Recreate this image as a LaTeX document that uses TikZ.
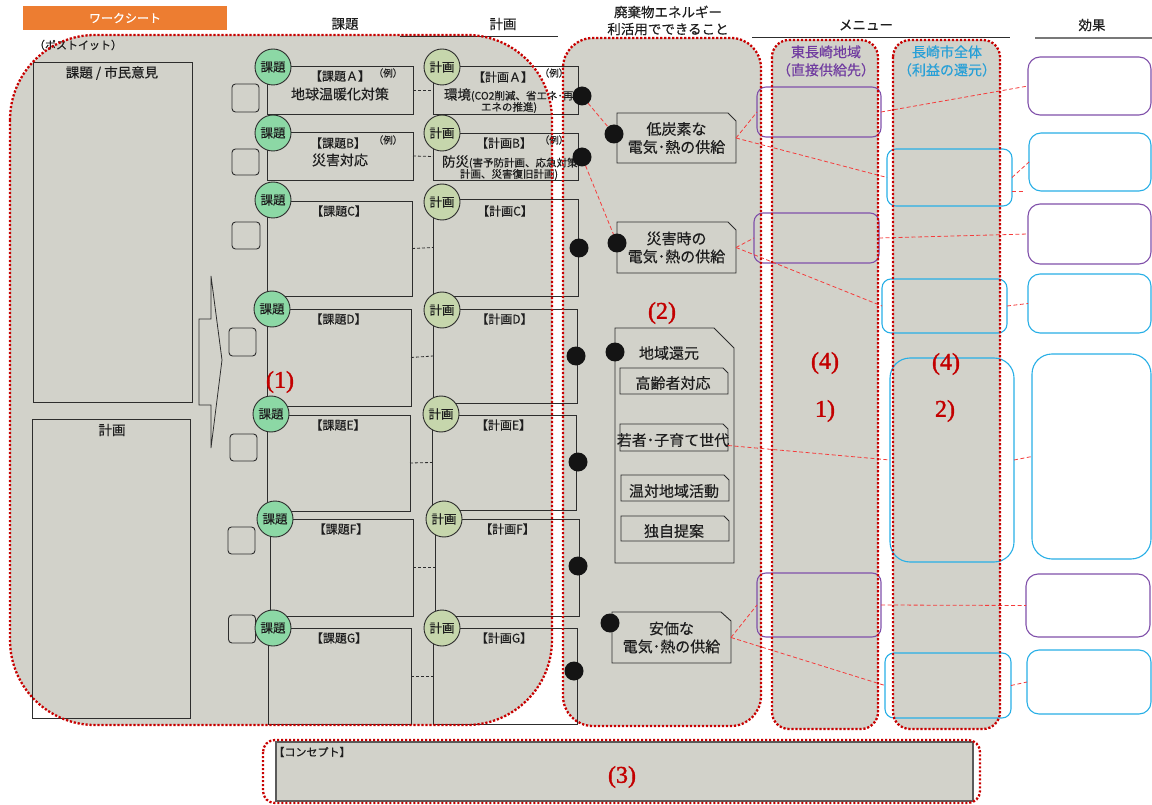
\documentclass[tikz,border=0pt]{standalone}
\usepackage{fontspec}
\setmainfont{Noto Sans CJK JP}[FakeBold=0.35]
\newfontfamily\lblfont{Liberation Serif}[FakeBold=1.4]
\newcommand\fsz[2]{\fontsize{#1pt}{#2pt}\selectfont}
\definecolor{bg}{RGB}{210,210,202}
\definecolor{ln}{RGB}{45,45,45}
\definecolor{txt}{RGB}{30,30,30}
\definecolor{rd}{RGB}{200,0,0}
\definecolor{rdl}{RGB}{245,60,60}
\definecolor{org}{RGB}{237,125,49}
\definecolor{kgreen}{RGB}{140,216,165}
\definecolor{pgreen}{RGB}{198,214,172}
\definecolor{pur}{RGB}{128,80,170}
\definecolor{purt}{RGB}{112,60,160}
\definecolor{blu}{RGB}{40,175,230}
\definecolor{blut}{RGB}{40,160,215}
\definecolor{dotc}{RGB}{20,20,20}
\definecolor{lr}{RGB}{195,0,0}
\definecolor{cg}{RGB}{90,90,90}
\definecolor{hl}{RGB}{120,120,120}
\begin{document}
\begin{tikzpicture}[x=1pt,y=-1pt,
  every node/.style={inner sep=0pt, outer sep=0pt, text=txt},
  wh/.style 2 args={minimum width=#1, minimum height=#2},
  bx/.style={draw=ln, line width=0.9pt},
  sq/.style={draw=ln, line width=0.9pt, rounded corners=3.5pt},
  kc/.style={circle, draw=ln, line width=0.9pt, fill=kgreen, minimum size=36pt, font=\fsz{12.5}{14}},
  pc/.style={kc, fill=pgreen},
  dt/.style={circle, fill=dotc, minimum size=19pt},
  rdot/.style={draw=rd, line width=2.3pt, dash pattern=on 2.2pt off 1.8pt},
  rdash/.style={draw=rdl, line width=0.8pt, dash pattern=on 4pt off 2.5pt},
  bdash/.style={draw=ln, line width=0.8pt, dash pattern=on 3pt off 2pt},
  mp/.style={draw=pur, line width=1.1pt, rounded corners=9pt},
  mb/.style={draw=blu, line width=1.1pt, rounded corners=9pt},
  ep/.style={mp, fill=white, rounded corners=12pt},
  eb/.style={mb, fill=white, rounded corners=12pt},
  lbl/.style={text=lr, font=\lblfont\fsz{24}{28}},
  t12/.style={font=\fsz{12}{14}},
  t14/.style={font=\fsz{13.5}{16}},
  t15/.style={font=\fsz{15}{18}, align=center},
  ex/.style={font=\fsz{9.5}{11}}
]
\useasboundingbox (0,0) rectangle (1152,805);

% ---------- region fills
\fill[bg, rounded corners=85pt] (10,35) rectangle (552,725);
\fill[bg, rounded corners=30pt] (563,38) rectangle (761,726);
\fill[bg, rounded corners=17pt] (772,40) rectangle (878,729);
\fill[bg, rounded corners=17pt] (893,40) rectangle (1000,729);

% ---------- headers
\node[fill=org, wh={204}{24}, text=white, font=\fsz{12}{14}] (ws) at (125,18) {ワークシート};
\node[t14] (h1) at (345,24) {課題};
\node[t14] (h2) at (503,24) {計画};
\node[t14, align=center, font=\fsz{13.5}{17}] (h3) at (668,20.5) {廃棄物エネルギー\\利活用でできること};
\node[t14] (h4) at (866,25) {メニュー};
\node[t14] (h5) at (1092,25) {効果};
\coordinate (u1) at (400,36); \coordinate (u2) at (558,36);
\draw[ln, line width=0.9pt] (u1) -- (u2);
\coordinate (u3) at (752,37); \coordinate (u4) at (1010,37);
\draw[ln, line width=0.9pt] (u3) -- (u4);
\coordinate (u5) at (1035,38); \coordinate (u6) at (1152,38);
\draw[hl, line width=1.2pt] (u5) -- (u6);

\node[font=\fsz{11}{13}] (pit) at (78,45) {（ポストイット）};

% ---------- left big boxes
\node[bx, wh={159}{340}] (kv) at (112.5,232) {};
\node[t14] (kvt) at (112,73) {課題 / 市民意見};
\node[bx, wh={158}{299}] (pl) at (111,568.5) {};
\node[t14] (plt) at (112,430) {計画};

% arrow
\draw[ln, line width=0.8pt] (199,319) -- (211,319) -- (211,276) -- (222,360) -- (211,448) -- (211,405) -- (199,405) -- cycle;

% post-it squares
\node[sq, wh={27}{28}] (sqA) at (245.5,98) {};
\node[sq, wh={27}{26}] (sqB) at (245.5,162) {};
\node[sq, wh={28}{27}] (sqC) at (246,235.5) {};
\node[sq, wh={27}{28}] (sqD) at (242.5,342) {};
\node[sq, wh={27}{27}] (sqE) at (243.5,447.5) {};
\node[sq, wh={27}{27}] (sqF) at (241.5,540.5) {};
\node[sq, wh={27}{28}] (sqG) at (242,629) {};

% ---------- 課題 boxes
\node[bx, wh={146}{48}] (kbA) at (340,90) {};
\node[bx, wh={146}{48}] (kbB) at (340,156) {};
\node[bx, wh={145}{95}] (kbC) at (339.5,248.5) {};
\node[bx, wh={144}{97}] (kbD) at (339,357.5) {};
\node[bx, wh={143}{96}] (kbE) at (338.5,463) {};
\node[bx, wh={143}{97}] (kbF) at (341.5,567.5) {};
\node[bx, wh={143}{96}] (kbG) at (339.5,676) {};

\node[t12] (ktA) at (340,76) {【課題Ａ】};
\node[ex] (keA) at (388,73) {（例）};
\node[font=\fsz{14}{16}] (kdA) at (340,94) {地球温暖化対策};
\node[t12] (ktB) at (338,143) {【課題B】};
\node[ex] (keB) at (388,140) {（例）};
\node[font=\fsz{14}{16}] (kdB) at (340,160) {災害対応};
\node[t12] (ktC) at (339,211) {【課題C】};
\node[t12] (ktD) at (338.5,319) {【課題D】};
\node[t12] (ktE) at (338,425) {【課題E】};
\node[t12] (ktF) at (341,529) {【課題F】};
\node[t12] (ktG) at (339,638) {【課題G】};

% ---------- 計画 boxes
\node[bx, wh={145}{48}] (pbA) at (505.5,90) {};
\node[bx, wh={145}{47}] (pbB) at (505.5,156.5) {};
\node[bx, wh={145}{97}] (pbC) at (505.5,247.5) {};
\node[bx, wh={144}{94}] (pbD) at (505,356) {};
\node[bx, wh={144}{95}] (pbE) at (504,462.5) {};
\node[bx, wh={144}{97}] (pbF) at (507,567.5) {};
\node[bx, wh={144}{96}] (pbG) at (505,676) {};

\node[t12] (ptA) at (503,77) {【計画Ａ】};
\node[ex] (peA) at (554,73) {（例）};
\node[anchor=west] (pdA) at (444,95) {{\fsz{13.5}{16}環境}{\fsz{10.5}{12}(CO2削減、省エネ･再}};
\node[font=\fsz{10.5}{12}] (pdA2) at (509,107.5) {エネの推進)};
\node[t12] (ptB) at (504,143) {【計画B】};
\node[ex] (peB) at (554,140) {（例）};
\node[anchor=west] (pdB) at (442,162) {{\fsz{13.5}{16}防災}{\fsz{10.5}{12}(害予防計画、応急対策}};
\node[font=\fsz{10.5}{12}] (pdB2) at (509,174.5) {計画、災害復旧計画)};
\node[t12] (ptC) at (505,211) {【計画C】};
\node[t12] (ptD) at (504.5,319) {【計画D】};
\node[t12] (ptE) at (503.5,425) {【計画E】};
\node[t12] (ptF) at (507.5,529) {【計画F】};
\node[t12] (ptG) at (504,638) {【計画G】};

% dashed links between columns
\foreach \r in {A,B,C,D,E,F,G} { \draw[bdash] (kb\r.east) -- (pb\r.west); }

% circles
\node[kc] (kA) at (273,67) {課題};
\node[kc] (kB) at (273,133) {課題};
\node[kc] (kC) at (273,200) {課題};
\node[kc] (kD) at (272,309) {課題};
\node[kc] (kE) at (271,414) {課題};
\node[kc] (kF) at (275,519) {課題};
\node[kc] (kG) at (273,628) {課題};
\node[pc] (pA) at (442,67) {計画};
\node[pc] (pB) at (442,133) {計画};
\node[pc] (pC) at (442,202) {計画};
\node[pc] (pD) at (442,310) {計画};
\node[pc] (pE) at (441,414) {計画};
\node[pc] (pF) at (444,519) {計画};
\node[pc] (pG) at (442,628) {計画};

% dots on 計画 boxes
\node[dt] (dA) at (582,96) {};
\node[dt] (dB) at (582,157) {};
\node[dt] (dC) at (579,248) {};
\node[dt] (dD) at (576,356) {};
\node[dt] (dE) at (578,462) {};
\node[dt] (dF) at (578,566) {};
\node[dt] (dG) at (574,671) {};

% ---------- column 2 boxes
\node[wh={119}{50}, t15] (lc) at (676.5,138) {低炭素な\\電気･熱の供給};
\draw[ln, line width=0.9pt] (lc.north west) -- ([xshift=-8pt]lc.north east) -- ([yshift=-8pt]lc.north east) -- (lc.south east) -- (lc.south west) -- cycle;
\node[wh={119}{51}, t15] (dc) at (676.5,247.5) {災害時の\\電気･熱の供給};
\draw[ln, line width=0.9pt] (dc.north west) -- ([xshift=-8pt]dc.north east) -- ([yshift=-8pt]dc.north east) -- (dc.south east) -- (dc.south west) -- cycle;
\node[wh={119}{51}, t15] (ac) at (671.5,637.5) {安価な\\電気･熱の供給};
\draw[ln, line width=0.9pt] (ac.north west) -- ([xshift=-10pt]ac.north east) -- ([yshift=-9pt]ac.north east) -- (ac.south east) -- (ac.south west) -- cycle;

\node[wh={119}{235}] (gb) at (674.5,445.5) {};
\draw[ln, line width=0.9pt] (gb.north west) -- ([xshift=-20pt]gb.north east) -- ([yshift=-20pt]gb.north east) -- (gb.south east) -- (gb.south west) -- cycle;
\node[font=\fsz{15}{18}] (gbt) at (669,353) {地域還元};
\foreach \n/\cx/\cy/\h in {s1/674/381/26, s2/674/437.5/27, s3/675/488/26, s4/675/528.5/25} {
  \node[wh={108}{\h}] (\n) at (\cx,\cy) {};
  \draw[ln, line width=0.9pt] (\n.north west) -- ([xshift=-5pt]\n.north east) -- ([yshift=-5pt]\n.north east) -- (\n.south east) -- (\n.south west) -- cycle;
}
\node[font=\fsz{15}{18}] (s1t) at (673,383) {高齢者対応};
\node[font=\fsz{15}{18}] (s2t) at (673,440) {若者･子育て世代};
\node[font=\fsz{15}{18}] (s3t) at (674,491) {温対地域活動};
\node[font=\fsz{15}{18}] (s4t) at (674,531) {独自提案};

\node[dt] (dlc) at (614,134) {};
\node[dt] (ddc) at (617,243) {};
\node[dt] (dgb) at (615,352) {};
\node[dt] (dac) at (610,623) {};

\draw[rdash] (dA) -- (dlc);
\draw[rdash] (dB) -- (ddc);

% ---------- menu boxes
\node[mp, wh={124}{50}] (P1) at (819,112) {};
\node[mp, wh={125}{50}] (P2) at (816.5,238) {};
\node[mp, wh={124}{64}] (P3) at (819,605) {};
\node[mb, wh={125}{57}] (B1) at (949.5,177.5) {};
\node[mb, wh={125}{54}] (B2) at (944.5,306) {};
\node[mb, wh={124}{204}, rounded corners=20pt] (B3) at (952,460) {};
\node[mb, wh={126}{65}] (B4) at (948,685.5) {};

% effect boxes
\node[ep, wh={123}{58}] (E1) at (1089.5,86) {};
\node[eb, wh={122}{58}] (E2) at (1090,162) {};
\node[ep, wh={123}{60}] (E3) at (1089.5,234) {};
\node[eb, wh={123}{59}] (E4) at (1089.5,303.5) {};
\node[eb, wh={119}{205}, rounded corners=20pt] (E5) at (1091.5,456.5) {};
\node[ep, wh={124}{63}] (E6) at (1088,605.5) {};
\node[eb, wh={124}{64}] (E7) at (1089,682) {};

% red dashed connectors
\draw[rdash] (lc.east) -- (P1.west);
\draw[rdash] (lc.east) -- (B1.west);
\draw[rdash] (P1.east) -- (E1.west);
\draw[rdash] (B1.east) -- (E2.west);
\coordinate (s1e) at (1023,191);
\draw[rdash] (B1.east |- s1e) -- (s1e);
\draw[rdash] (dc.east) -- (P2.west);
\draw[rdash] (dc.east) -- (B2.west);
\draw[rdash] (P2.east) -- (E3.west);
\draw[rdash] (B2.east) -- (E4.west);
\draw[rdash] ([yshift=-8pt]s2.east) -- (B3.west);
\draw[rdash] (B3.east) -- (E5.west);
\draw[rdash] (ac.east) -- (P3.west);
\draw[rdash] (ac.east) -- (B4.west);
\draw[rdash] (P3.east) -- (E6.west);
\draw[rdash] (B4.east) -- (E7.west);

% region titles
\node[font=\fsz{14}{18}, text=purt, align=center] (r41t) at (826,61) {東長崎地域\\（直接供給先）};
\node[font=\fsz{14}{18}, text=blut, align=center] (r42t) at (947,61) {長崎市全体\\（利益の還元）};

% concept
\node[draw=cg, line width=1.5pt, fill=bg, wh={697}{59}] (cp) at (624.5,771.5) {};
\node[font=\fsz{11}{13}] (cpt) at (312,752) {【コンセプト】};

% red labels
\node[lbl] (L1) at (280,382) {(1)};
\node[lbl] (L2) at (662,313) {(2)};
\node[lbl] (L41) at (825,363) {(4)};
\node[lbl] (L41b) at (825,411) {1)};
\node[lbl] (L42) at (946,364) {(4)};
\node[lbl] (L42b) at (945,411) {2)};
\node[lbl] (L3) at (622,777) {(3)};

% ---------- dotted region borders
\draw[rdot, rounded corners=85pt] (10,35) rectangle (552,725);
\draw[rdot, rounded corners=30pt] (563,38) rectangle (761,726);
\draw[rdot, rounded corners=17pt] (772,40) rectangle (878,729);
\draw[rdot, rounded corners=17pt] (893,40) rectangle (1000,729);
\draw[rdot, rounded corners=12pt] (263,740) rectangle (980,803);
\end{tikzpicture}
\end{document}
